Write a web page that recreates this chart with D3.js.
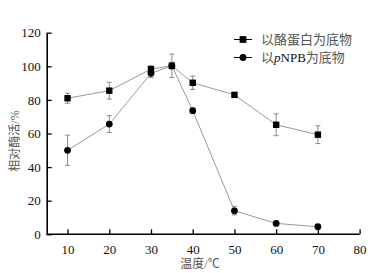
<!DOCTYPE html>
<html><head><meta charset="utf-8">
<script src="https://cdn.jsdelivr.net/npm/d3@7/dist/d3.min.js"></script>
<style>body{margin:0;background:#fff}svg{display:block}.tick text{font-family:'Liberation Serif','Times New Roman',serif !important;}</style>
</head><body>
<svg id="c" width="371" height="273"></svg>
<script>
const temps = [10, 20, 30, 35, 40, 50, 60, 70];
const caseinVals = [81, 85.5, 98.3, 100.3, 90.2, 83, 65.2, 59.3];
const caseinErr = [3, 5, 2, 7, 4, 0, 6.5, 5.3];
const pnpbVals = [50, 65.6, 95.8, 100.3, 73.6, 14, 6.5, 4.5];
const pnpbErr = [9, 5, 2.5, 2, 1.5, 2.5, 0, 0];
const xTicks = [10, 20, 30, 40, 50, 60, 70, 80];
const yTicks = [0, 20, 40, 60, 80, 100, 120];
const seriesNames = ["以酪蛋白为底物", "以pNPB为底物"];

const svg = d3.select("#c");
const x = d3.scaleLinear().domain([5, 80]).range([46.7, 359.6]);
const y = d3.scaleLinear().domain([0, 120]).range([234.3, 32.7]);
const serif = "'Liberation Serif','Times New Roman',serif";
const cjk = "'Liberation Serif','Noto Sans CJK SC',serif";

const gx = svg.append("g").attr("transform", `translate(0,${y(0)})`)
  .call(d3.axisBottom(x).tickValues(xTicks).tickSize(-5).tickPadding(10).tickSizeOuter(0));
const gy = svg.append("g").attr("transform", `translate(${x(5)},0)`)
  .call(d3.axisLeft(y).tickValues(yTicks).tickSize(-5).tickPadding(6).tickSizeOuter(0));
[gx, gy].forEach(g => {
  g.attr("font-family", serif).attr("font-size", 13);
  g.select(".domain").attr("stroke", "#000").attr("stroke-width", 1.6);
  g.selectAll(".tick line").attr("stroke", "#000").attr("stroke-width", 1.3);
  g.selectAll(".tick text").attr("font-family", serif).attr("font-size", 13).attr("fill", "#111");
});
gx.select(".domain").attr("d", `M${x(5)},0H${x(80)}`);

const data = [
  {vals: caseinVals, err: caseinErr, shape: "square"},
  {vals: pnpbVals, err: pnpbErr, shape: "circle"}
];
const line = d3.line().x(d => x(d[0])).y(d => y(d[1]));
data.forEach(s => {
  const pts = temps.map((t, i) => [t, s.vals[i], s.err[i]]);
  svg.append("path").attr("d", line(pts)).attr("fill", "none").attr("stroke", "#9a9a9a").attr("stroke-width", 1);
  const eb = svg.append("g").attr("stroke", "#8a8a8a").attr("stroke-width", 1);
  pts.filter(p => p[2] > 0).forEach(p => {
    const cx = x(p[0]), y1 = y(p[1] + p[2]), y2 = y(p[1] - p[2]);
    eb.append("line").attr("x1", cx).attr("x2", cx).attr("y1", y1).attr("y2", y2);
    eb.append("line").attr("x1", cx - 2.5).attr("x2", cx + 2.5).attr("y1", y1).attr("y2", y1);
    eb.append("line").attr("x1", cx - 2.5).attr("x2", cx + 2.5).attr("y1", y2).attr("y2", y2);
  });
});
data.forEach(s => {
  const pts = temps.map((t, i) => [t, s.vals[i]]);
  if (s.shape === "square") {
    svg.selectAll(null).data(pts).enter().append("rect")
      .attr("x", d => x(d[0]) - 3.2).attr("y", d => y(d[1]) - 3.2)
      .attr("width", 6.4).attr("height", 6.4).attr("fill", "#000");
  } else {
    svg.selectAll(null).data(pts).enter().append("circle")
      .attr("cx", d => x(d[0])).attr("cy", d => y(d[1])).attr("r", 3.4).attr("fill", "#000");
  }
});

// legend
const lg = svg.append("g");
[39.5, 57.5].forEach((ly, i) => {
  lg.append("line").attr("x1", 234).attr("x2", 252).attr("y1", ly).attr("y2", ly).attr("stroke", "#000").attr("stroke-width", 1);
  if (i === 0) lg.append("rect").attr("x", 243 - 3.4).attr("y", ly - 3.4).attr("width", 6.8).attr("height", 6.8).attr("fill", "#000");
  else lg.append("circle").attr("cx", 243).attr("cy", ly).attr("r", 3.4).attr("fill", "#000");
});
lg.append("text").attr("x", 261).attr("y", 44).attr("font-family", cjk).attr("font-size", 13).attr("fill", "#555").text(seriesNames[0]);
const t2 = lg.append("text").attr("x", 261).attr("y", 62).attr("font-family", cjk).attr("font-size", 13).attr("fill", "#555");
t2.append("tspan").text("以");
t2.append("tspan").attr("font-style", "italic").attr("fill", "#111").attr("font-family", serif).text("p");
t2.append("tspan").attr("fill", "#111").attr("font-family", serif).text("NPB");
t2.append("tspan").text("为底物");

svg.append("text").attr("x", 200).attr("y", 268).attr("text-anchor", "middle")
  .attr("font-family", cjk).attr("font-size", 12).attr("fill", "#555").text("温度/℃");
svg.append("text").attr("transform", "translate(19,141) rotate(-90)").attr("text-anchor", "middle")
  .attr("font-family", cjk).attr("font-size", 12).attr("fill", "#555").text("相对酶活/%");
</script>
</body></html>
